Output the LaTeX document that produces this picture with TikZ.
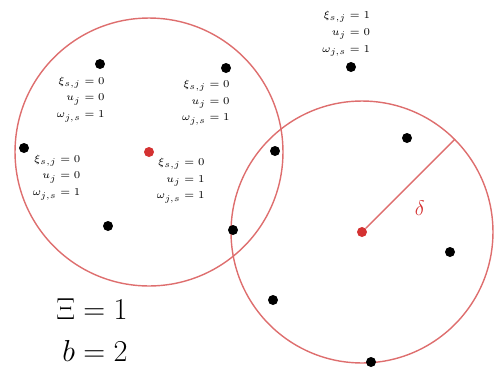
\documentclass[tikz,border=0pt]{standalone}
\usepackage{amsmath,amssymb}
\usepackage{xcolor}
\usepackage{tikz}
\usetikzlibrary{positioning}
\definecolor{ringred}{RGB}{222,110,110}
\definecolor{hubred}{RGB}{212,50,50}

\begin{document}
\begin{tikzpicture}[x=0.02cm,y=-0.02cm,every node/.style={font=\small},
  dot/.style={circle,fill=black,inner sep=0pt,minimum size=0.2cm},
  hub/.style={circle,fill=hubred,inner sep=0pt,minimum size=0.2cm},
  ring/.style={circle,draw=ringred,line width=0.8pt,inner sep=0pt},
  lbl/.style={font=\fontsize{6.2}{9.6}\selectfont,align=right,inner sep=1pt}]
\useasboundingbox (0,0) rectangle (494,369);
% the two neighbourhoods
\node[ring,minimum size=5.36cm] (ringL) at (149,152) {};
\node[ring,minimum size=5.24cm] (ringR) at (362,232) {};
\node[hub] (hubL) at (149,152) {};
\node[hub] (hubR) at (362,232) {};
% points
\node[dot] (p1) at (100,64) {};
\node[dot] (p2) at (226,68) {};
\node[dot] (p3) at (24,148) {};
\node[dot] (p4) at (108,226) {};
\node[dot] (p5) at (351,67) {};
\node[dot] (p6) at (275,151) {};
\node[dot] (p7) at (407,138) {};
\node[dot] (p8) at (233,230) {};
\node[dot] (p9) at (450,252) {};
\node[dot] (p10) at (273,300) {};
\node[dot] (p11) at (371,362) {};
% labels
\node[lbl,anchor=north east] (l1) at ([xshift=3.8pt,yshift=-3pt]p1.south) {$\xi_{s,j}=0$\\$u_j=0$\\$\omega_{j,s}=1$};
\node[lbl,anchor=north east] (l2) at ([xshift=3.3pt,yshift=-2.5pt]p2.south) {$\xi_{s,j}=0$\\$u_j=0$\\$\omega_{j,s}=1$};
\node[lbl,anchor=north west] (l3) at ([xshift=1.5pt,yshift=-0.5pt]p3.south east) {$\xi_{s,j}=0$\\$u_j=0$\\$\omega_{j,s}=1$};
\node[lbl,anchor=north west] (l4) at ([xshift=1pt]hubL.south east) {$\xi_{s,j}=0$\\$u_j=1$\\$\omega_{j,s}=1$};
\node[lbl,anchor=south east] (l5) at ([xshift=12pt,yshift=2pt]p5.north) {$\xi_{s,j}=1$\\$u_j=0$\\$\omega_{j,s}=1$};
% radius
\draw[ringred,line width=0.8pt] (hubR) -- (ringR.45)
  node[pos=0.41,below right=2pt,xshift=2pt,text=hubred,font=\large] (delta) {$\delta$};
% parameters
\node[font=\LARGE,align=right,anchor=north east,inner sep=0pt] (params) at (128,298) {$\Xi=1$\\[2pt]$b=2$};
\end{tikzpicture}
\end{document}
